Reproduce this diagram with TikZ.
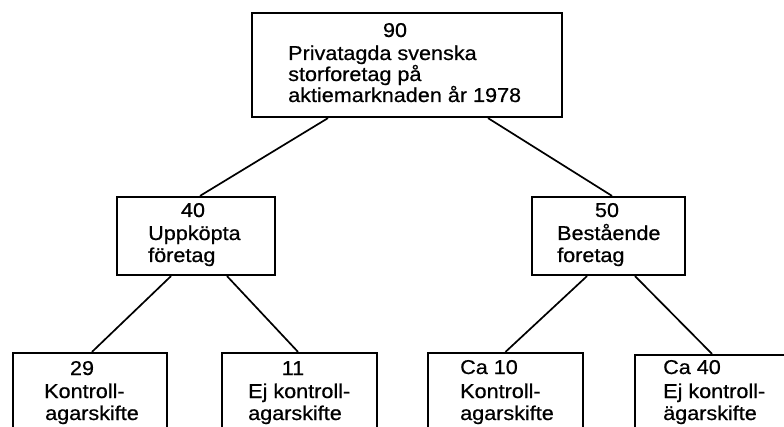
\documentclass[tikz,border=0pt]{standalone}
\usepackage{fontspec}
\setmainfont{Liberation Sans}[FakeStretch=1.08,FakeBold=0.6]
\usetikzlibrary{calc}
\begin{document}
\begin{tikzpicture}[x=1pt,y=-1pt,
  box/.style={draw=black,line width=2.2pt,inner sep=0pt},
  conn/.style={draw=black,line width=1.7pt},
  lbl/.style={inner sep=0pt,font=\fontsize{20}{22}\selectfont},
]
\useasboundingbox (0,0) rectangle (784,427);
\clip (0,0) rectangle (784,427);
\fill[white] (0,0) rectangle (784,427);
% boxes
\node[box,minimum width=310pt,minimum height=104pt] (top) at (407,65) {};
\node[box,minimum width=158pt,minimum height=78pt] (b40) at (196,236) {};
\node[box,minimum width=153pt,minimum height=78pt] (b50) at (608.5,236) {};
\node[box,minimum width=154pt,minimum height=87pt] (b29) at (90,396.5) {};
\node[box,minimum width=155pt,minimum height=87pt] (b11) at (299.5,396.5) {};
\node[box,minimum width=155pt,minimum height=87pt] (b10) at (505.5,396.5) {};
\node[box,minimum width=165pt,minimum height=85pt] (bc40) at (717.5,397.5) {};
% texts
\node[lbl,anchor=base] (t90) at (395,37) {90};
\node[lbl,anchor=base west] (t90a) at (288,60) {Privatagda svenska};
\node[lbl,anchor=base west] (t90b) at (288,81) {storforetag på};
\node[lbl,anchor=base west] (t90c) at (288,102) {aktiemarknaden år 1978};
\node[lbl,anchor=base] (t40) at (193,217) {40};
\node[lbl,anchor=base west] (t40a) at (148,240) {Uppköpta};
\node[lbl,anchor=base west] (t40b) at (148,262) {företag};
\node[lbl,anchor=base] (t50) at (607,217) {50};
\node[lbl,anchor=base west] (t50a) at (557,240) {Bestående};
\node[lbl,anchor=base west] (t50b) at (557,262) {foretag};
\node[lbl,anchor=base] (t29) at (82,375) {29};
\node[lbl,anchor=base west] (t29a) at (44,398) {Kontroll-};
\node[lbl,anchor=base west] (t29b) at (45,420) {agarskifte};
\node[lbl,anchor=base] (t11) at (293,375) {11};
\node[lbl,anchor=base west] (t11a) at (248,398) {Ej kontroll-};
\node[lbl,anchor=base west] (t11b) at (248,420) {agarskifte};
\node[lbl,anchor=base west] (t10) at (460,374) {Ca 10};
\node[lbl,anchor=base west] (t10a) at (460,398) {Kontroll-};
\node[lbl,anchor=base west] (t10b) at (460,420) {agarskifte};
\node[lbl,anchor=base west] (tc40) at (663,374) {Ca 40};
\node[lbl,anchor=base west] (tc40a) at (663,398) {Ej kontroll-};
\node[lbl,anchor=base west] (tc40b) at (663,420) {ägarskifte};
% connectors
\draw[conn] ($(top.south)+(-79,0)$) -- ($(b40.north)+(4,0)$);
\draw[conn] ($(top.south)+(81,0)$) -- ($(b50.north)+(3.5,0)$);
\draw[conn] ($(b40.south)+(-25,0)$) -- ($(b29.north)+(2,0)$);
\draw[conn] ($(b40.south)+(31,0)$) -- ($(b11.north)+(-1.5,0)$);
\draw[conn] ($(b50.south)+(-21.5,0)$) -- ($(b10.north)+(0,0)$);
\draw[conn] ($(b50.south)+(26.5,0)$) -- ($(bc40.north)+(-5.5,0)$);
\end{tikzpicture}
\end{document}
